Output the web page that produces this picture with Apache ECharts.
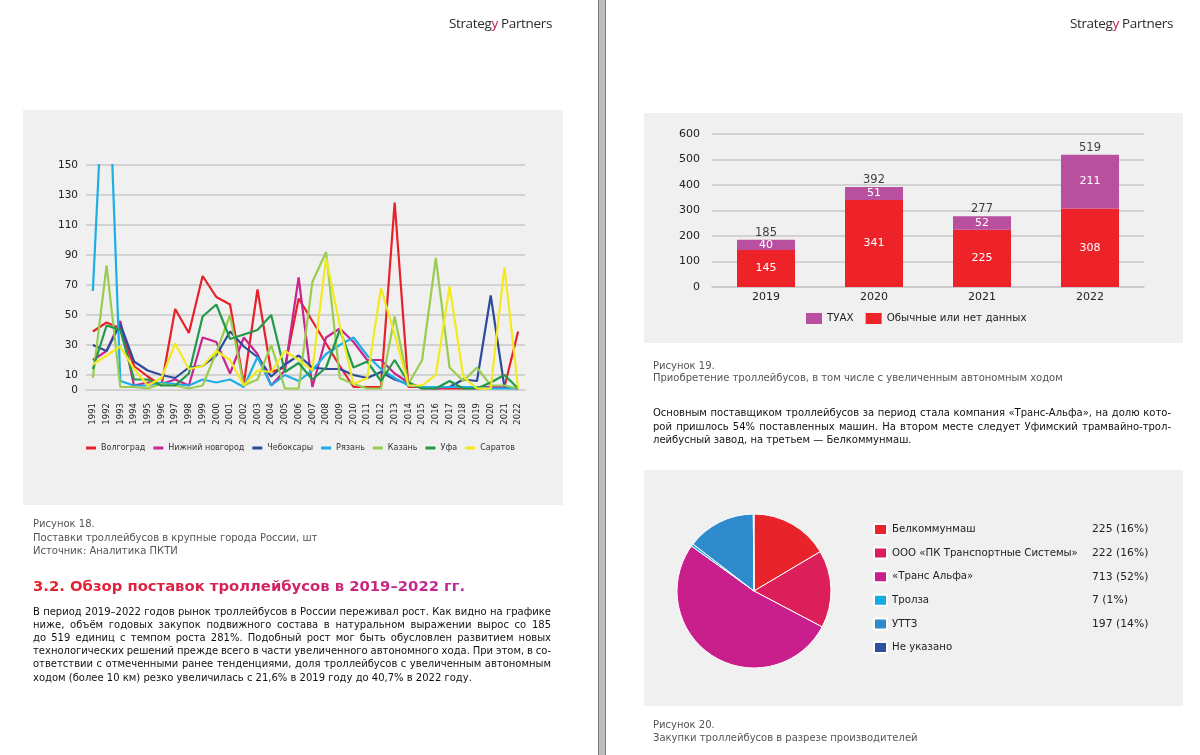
<!DOCTYPE html>
<html>
<head>
<meta charset="utf-8">
<script src="https://cdn.jsdelivr.net/npm/echarts@6/dist/echarts.min.js"></script>
<style>
  html, body { margin:0; padding:0; }
  body { width:1200px; height:755px; position:relative; background:#fff; overflow:hidden; font-family:"DejaVu Sans", Verdana, sans-serif; }
  .panel { position:absolute; background:#f0f0f0; z-index:1; }
  .txt { position:absolute; z-index:3; white-space:nowrap; }
  .cap { font-size:10px; line-height:13.5px; color:#555; }
  .para { font-size:10px; line-height:13.2px; color:#111; }
  .jline { display:block; white-space:nowrap; }
  .jline span { display:inline-block; white-space:nowrap; }
  .logo { font-family:"Open Sans", sans-serif; font-size:13.5px; letter-spacing:-0.35px; color:#2a2a2a; line-height:16px; }
  .logo b { font-weight:normal; color:#c2185b; }
  #sep { position:absolute; left:598px; top:0; width:6px; height:755px; background:#bdbdbd; border-left:1px solid #7c7c7c; border-right:1px solid #7c7c7c; z-index:4; }
  h2 { margin:0; position:absolute; z-index:3; font-size:14.8px; line-height:18px; font-weight:bold; white-space:nowrap;
       background:linear-gradient(90deg,#e5202a 0%,#d8224f 40%,#bf279a 100%); -webkit-background-clip:text; background-clip:text; color:transparent; }
  #chart { position:absolute; left:0; top:0; width:1200px; height:755px; z-index:2; }
</style>
</head>
<body>
<div id="sep"></div>

<div class="txt logo" style="right:648px; top:15px;">Strateg<b>y</b> Partners</div>
<div class="txt logo" style="right:27px; top:15px;">Strateg<b>y</b> Partners</div>

<div class="panel" style="left:23px; top:110px; width:540px; height:395px;"></div>
<div class="panel" style="left:644px; top:113px; width:539px; height:230px;"></div>
<div class="panel" style="left:644px; top:470px; width:539px; height:236px;"></div>

<div class="txt cap" style="left:33px; top:517px;">Рисунок 18.<br>Поставки троллейбусов в крупные города России, шт<br>Источник: Аналитика ПКТИ</div>
<h2 style="left:33px; top:577px;">3.2. Обзор поставок троллейбусов в 2019–2022 гг.</h2>
<div class="txt para" style="left:33px; top:604.5px; width:518px;">
  <div class="jline" data-w="518"><span>В период 2019–2022 годов рынок троллейбусов в России переживал рост. Как видно на графике</span></div>
  <div class="jline" data-w="518"><span>ниже, объём годовых закупок подвижного состава в натуральном выражении вырос со 185</span></div>
  <div class="jline" data-w="518"><span>до 519 единиц с темпом роста 281%. Подобный рост мог быть обусловлен развитием новых</span></div>
  <div class="jline" data-w="518"><span>технологических решений прежде всего в части увеличенного автономного хода. При этом, в со-</span></div>
  <div class="jline" data-w="518"><span>ответствии с отмеченными ранее тенденциями, доля троллейбусов с увеличенным автономным</span></div>
  <div class="jline"><span>ходом (более 10 км) резко увеличилась с 21,6% в 2019 году до 40,7% в 2022 году.</span></div>
</div>

<div class="txt cap" style="left:653px; top:359.5px; line-height:12.8px;">Рисунок 19.<br>Приобретение троллейбусов, в том числе с увеличенным автономным ходом</div>
<div class="txt para" style="left:653px; top:406px; width:518px; line-height:13.5px;">
  <div class="jline" data-w="518"><span>Основным поставщиком троллейбусов за период стала компания «Транс-Альфа», на долю кото-</span></div>
  <div class="jline" data-w="518"><span>рой пришлось 54% поставленных машин. На втором месте следует Уфимский трамвайно-трол-</span></div>
  <div class="jline"><span>лейбусный завод, на третьем — Белкоммунмаш.</span></div>
</div>
<div class="txt cap" style="left:653px; top:717.5px; line-height:13px;">Рисунок 20.<br>Закупки троллейбусов в разрезе производителей</div>

<div id="chart"></div>

<script>
// ---------- Chart 1: deliveries by city ----------
const years = ['1991','1992','1993','1994','1995','1996','1997','1998','1999','2000','2001','2002','2003','2004','2005','2006',
               '2007','2008','2009','2010','2011','2012','2013','2014','2015','2016','2017','2018','2019','2020','2021','2022'];
const cityNames = ['Волгоград','Нижний новгород','Чебоксары','Рязань','Казань','Уфа','Саратов'];
const volgograd  = [39, 45, 41, 16, 9, 3, 54, 38, 76, 62, 57, 4, 67, 12, 15, 61, 46, 31, 16, 2, 2, 2, 125, 2, 2, 1, 1, 1, 1, 2, 2, 39];
const nizhny     = [20, 26, 46, 3, 5, 4, 7, 3, 35, 32, 11, 35, 24, 3, 13, 75, 2, 35, 41, 32, 20, 20, 11, 5, 1, 1, 2, 2, 2, 2, 2, 1];
const cheboksary = [30, 26, 44, 19, 13, 10, 8, 15, 16, 23, 39, 29, 22, 9, 17, 23, 15, 14, 14, 10, 8, 12, 7, 4, 2, 2, 2, 7, 6, 63, 2, 1];
const ryazan     = [66, 255, 6, 3, 3, 5, 4, 3, 7, 5, 7, 2, 22, 3, 10, 6, 13, 24, 30, 35, 23, 14, 8, 3, 2, 2, 2, 2, 2, 1, 1, 1];
const kazan      = [8, 83, 2, 2, 1, 4, 3, 1, 3, 25, 50, 3, 7, 30, 1, 1, 72, 92, 8, 4, 1, 1, 49, 4, 20, 88, 15, 6, 15, 3, 3, 1];
const ufa        = [14, 43, 40, 7, 7, 3, 3, 11, 49, 57, 34, 37, 40, 50, 12, 18, 7, 15, 40, 15, 19, 6, 20, 5, 1, 1, 6, 1, 1, 5, 10, 1];
const saratov    = [17, 23, 29, 14, 3, 8, 31, 14, 16, 26, 20, 3, 13, 12, 26, 20, 13, 88, 43, 4, 8, 68, 37, 3, 3, 10, 69, 9, 1, 1, 82, 1];
const citySeries = [volgograd, nizhny, cheboksary, ryazan, kazan, ufa, saratov];
const lineYTicks = [0, 10, 30, 50, 70, 90, 110, 130, 150];

// ---------- Chart 2: purchases 2019-2022 ----------
const barYears   = ['2019', '2020', '2021', '2022'];
const barTuax    = [40, 51, 52, 211];
const barRegular = [145, 341, 225, 308];
const barTotals  = [185, 392, 277, 519];
const barNames   = ['ТУАХ', 'Обычные или нет данных'];

// ---------- Chart 3: manufacturers ----------
const pieNames  = ['Белкоммунмаш', 'ООО «ПК Транспортные Системы»', '«Транс Альфа»', 'Тролза', 'УТТЗ', 'Не указано'];
const pieValues = [225, 222, 713, 7, 197, 2];
const pieShares = ['16%', '16%', '52%', '1%', '14%', ''];

// ---------- styling ----------
const FONT = 'DejaVu Sans';
const cityColors = ['#e8202a', '#c9258f', '#2e4b9b', '#1eaee5', '#9acd4f', '#22994a', '#f2ea1f'];
const pieColors = ['#e8232a', '#dc1f5a', '#c81f8c', '#13ade0', '#2f8ccc', '#2f4f9f'];
const GRID = '#c8c8c8';

const chart = echarts.init(document.getElementById('chart'), null, {renderer: 'canvas'});

const series = [];
citySeries.forEach((vals, i) => {
  series.push({
    name: cityNames[i], type: 'line', xAxisIndex: 0, yAxisIndex: 0,
    data: vals, symbol: 'none', clip: true, z: 2 + i,
    lineStyle: {width: 2.2, color: cityColors[i]}, itemStyle: {color: cityColors[i]}
  });
});
series.push({
  name: barNames[1], type: 'bar', xAxisIndex: 1, yAxisIndex: 1, stack: 'total',
  data: barRegular, barWidth: 58, itemStyle: {color: '#ee2229'},
  label: {show: true, position: 'inside', color: '#fff', fontSize: 11, fontFamily: FONT}
});
series.push({
  name: barNames[0], type: 'bar', xAxisIndex: 1, yAxisIndex: 1, stack: 'total',
  data: barTuax, barWidth: 58, itemStyle: {color: '#b9509f'},
  label: {show: true, position: 'inside', color: '#fff', fontSize: 11, fontFamily: FONT}
});
series.push({
  name: 'totals', type: 'scatter', xAxisIndex: 1, yAxisIndex: 1,
  data: barTotals, symbolSize: 0, silent: true,
  label: {show: true, position: 'top', distance: 1, color: '#111', fontSize: 11.5, fontFamily: FONT}
});
series.push({
  name: 'pie', type: 'pie', center: [754, 591], radius: 77, startAngle: 90, clockwise: true,
  label: {show: false}, labelLine: {show: false},
  itemStyle: {borderColor: '#fff', borderWidth: 1},
  data: pieNames.map((n, i) => ({name: n, value: pieValues[i], itemStyle: {color: pieColors[i]}}))
});

const option = {
  animation: false,
  textStyle: {fontFamily: FONT},
  grid: [
    {left: 86, top: 165, width: 439, height: 225, containLabel: false},
    {left: 712, top: 134, width: 432, height: 153, containLabel: false}
  ],
  xAxis: [
    {type: 'category', gridIndex: 0, data: years, boundaryGap: true,
     axisLine: {show: true, lineStyle: {color: GRID, width: 1.5}}, axisTick: {show: false},
     axisLabel: {rotate: 90, interval: 0, fontSize: 8.5, color: '#222', margin: 13, fontFamily: FONT}},
    {type: 'category', gridIndex: 1, data: barYears, boundaryGap: true,
     axisLine: {show: true, lineStyle: {color: GRID, width: 1.5}}, axisTick: {show: false},
     axisLabel: {fontSize: 11, color: '#222', margin: 5, fontFamily: FONT}}
  ],
  yAxis: [
    {type: 'value', gridIndex: 0, min: 0, max: 150, interval: 10,
     axisLine: {show: false}, axisTick: {show: false},
     axisLabel: {fontSize: 10.5, color: '#222', margin: 8, fontFamily: FONT,
                 formatter: v => lineYTicks.indexOf(v) >= 0 ? String(v) : ''},
     splitLine: {show: true, lineStyle: {width: 1.5,
                 color: Array.from({length: 16}, (_, k) => (lineYTicks.indexOf(k * 10) >= 0 && k > 0) ? GRID : 'rgba(0,0,0,0)')}}},
    {type: 'value', gridIndex: 1, min: 0, max: 600, interval: 100,
     axisLine: {show: false}, axisTick: {show: false},
     axisLabel: {fontSize: 11, color: '#222', margin: 12, fontFamily: FONT},
     splitLine: {show: true, lineStyle: {color: GRID, width: 1.5}}}
  ],
  legend: [
    {data: cityNames, left: 86, top: 444, padding: 0, orient: 'horizontal', icon: 'rect', itemWidth: 10, itemHeight: 3, itemGap: 8,
     textStyle: {fontSize: 8, color: '#333', fontFamily: FONT}, selectedMode: false},
    {data: barNames, left: 806, top: 313, padding: 0, orient: 'horizontal', icon: 'rect', itemWidth: 16, itemHeight: 11, itemGap: 12,
     textStyle: {fontSize: 10.3, color: '#222', fontFamily: FONT}, selectedMode: false},
    {data: pieNames, left: 873, top: 523, padding: 0, orient: 'vertical', icon: 'rect', itemWidth: 13, itemHeight: 11, itemGap: 10.6,
     selectedMode: false,
     formatter: name => {
       const i = pieNames.indexOf(name);
       return pieShares[i] ? '{n|' + name + '}{v|' + pieValues[i] + ' (' + pieShares[i] + ')}' : '{n|' + name + '}';
     },
     textStyle: {fontSize: 10.2, color: '#222', fontFamily: FONT,
       rich: {n: {width: 200, fontSize: 10.2, color: '#222', fontFamily: FONT, lineHeight: 14},
              v: {fontSize: 10.8, color: '#222', fontFamily: FONT, lineHeight: 14}}}}
  ],
  series: series
};
chart.setOption(option);

// justify paragraph lines to the column width
document.querySelectorAll('.jline[data-w]').forEach(line => {
  const span = line.querySelector('span');
  const target = parseFloat(line.getAttribute('data-w'));
  const natural = span.getBoundingClientRect().width;
  const spaces = (span.textContent.match(/ /g) || []).length;
  if (spaces > 0) span.style.wordSpacing = ((target - natural) / spaces) + 'px';
});
</script>
</body>
</html>
